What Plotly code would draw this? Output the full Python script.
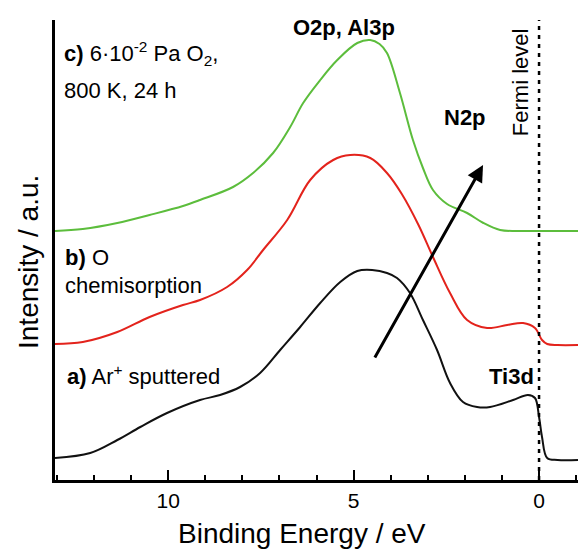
import plotly.graph_objects as go

# ---- data (binding energy in eV, intensity in arbitrary units) ----
energy_a = [13.05, 12.1, 11.37, 10.75, 10.03, 9.14, 8.6, 8.06, 7.52, 6.98, 6.44, 5.9, 5.36,
            4.9, 4.5, 4.1, 3.83, 3.48, 3.13, 2.75, 2.4, 2.05, 1.67, 1.32, 0.70, 0.3, 0.11, 0.0,
            -0.08, -0.22, -0.5, -1.05]
intensity_a = [22, 27, 40, 53, 67, 80, 85, 93, 107, 130, 153, 177, 198,
               209, 210, 207, 202, 187, 160, 130, 97, 78, 73, 73, 80, 85, 82, 63,
               43, 22, 20, 20]

energy_b = [13.05, 12.3, 11.37, 10.5, 9.6, 9.14, 8.41, 7.87, 7.44, 6.79, 6.17, 5.55, 5.09, 4.55,
            4.1, 3.7, 3.25, 2.86, 2.4, 1.94, 1.4, 0.86, 0.43, 0.11, -0.08, -0.22, -0.5, -1.05]
intensity_b = [136, 138, 148, 163, 175, 180, 193, 210, 230, 260, 300, 320, 325, 322,
               307, 286, 255, 223, 187, 160, 152, 155, 157, 152, 140, 136, 135, 135]

energy_c = [13.05, 12.3, 11.37, 10.5, 9.6, 9.14, 8.25, 7.71, 7.17, 6.71, 6.36, 5.9, 5.44, 4.9,
            4.55, 4.3, 4.1, 3.75, 3.4, 3.13, 2.86, 2.48, 1.94, 1.5, 1.05, 0.6, 0.0, -1.05]
intensity_c = [249, 251, 257, 265, 274, 280, 293, 307, 327, 353, 377, 400, 420, 437,
               440, 436, 427, 387, 340, 312, 290, 276, 267, 257, 250, 249, 249, 249]

fermi_level = 0.0
arrow_start = (4.45, 121)
arrow_end = (1.51, 315)

x_tickvals = [10, 5, 0]
x_ticktext = ["10", "5", "0"]

FONT = "Liberation Sans, Arial, sans-serif"

fig = go.Figure()
for e, i, col in [(energy_a, intensity_a, "#111111"),
                  (energy_b, intensity_b, "#e3231c"),
                  (energy_c, intensity_c, "#5cbd3c")]:
    fig.add_trace(go.Scatter(x=e, y=i, mode="lines",
                             line=dict(color=col, width=2, shape="spline", smoothing=1.0),
                             showlegend=False, hoverinfo="skip"))

fig.add_vline(x=fermi_level, line=dict(color="black", width=2.5, dash="4px,5px"))

def ann(text, x, y, size=22, **kw):
    fig.add_annotation(text=text, x=x, y=y, xref="x", yref="y", showarrow=False,
                       font=dict(family=FONT, size=size, color="black"), **kw)

# labels (positions in data coords)
ann("<b>c)</b> 6·10<sup>-2</sup> Pa O<sub>2</sub>,", 12.85, 427, xanchor="left", yanchor="middle")
ann("800 K, 24 h", 12.87, 390, xanchor="left", yanchor="middle")
ann("<b>b)</b> O", 12.83, 223, xanchor="left", yanchor="middle")
ann("chemisorption", 12.83, 195, xanchor="left", yanchor="middle")
ann("<b>a)</b> Ar<sup>+</sup> sputtered", 12.78, 105, xanchor="left", yanchor="middle")
ann("<b>O2p, Al3p</b>", 5.255, 453, xanchor="center", yanchor="middle")
ann("<b>N2p</b>", 1.995, 363, xanchor="center", yanchor="middle")
ann("<b>Ti3d</b>", 0.73, 104, xanchor="center", yanchor="middle")
ann("Fermi level", 0.51, 398, xanchor="center", yanchor="middle", textangle=-90)

fig.add_annotation(x=arrow_end[0], y=arrow_end[1], ax=arrow_start[0], ay=arrow_start[1],
                   xref="x", yref="y", axref="x", ayref="y", showarrow=True,
                   arrowhead=2, arrowsize=1.1, arrowwidth=3, arrowcolor="black", text="")

# axis titles
fig.add_annotation(text="Intensity / a.u.", xref="paper", yref="paper",
                   x=(28 - 55) / 523, y=(480 - 262) / 460, textangle=-90, showarrow=False,
                   xanchor="center", yanchor="middle",
                   font=dict(family=FONT, size=28, color="black"))
fig.add_annotation(text="Binding Energy / eV", xref="paper", yref="paper",
                   x=(302 - 55) / 523, y=(480 - 533) / 460, showarrow=False,
                   xanchor="center", yanchor="middle",
                   font=dict(family=FONT, size=28, color="black"))

fig.update_xaxes(range=[13.05, -1.05], showline=True, linecolor="black", linewidth=3,
                 tickmode="array", tickvals=x_tickvals, ticktext=x_ticktext,
                 ticks="inside", ticklen=10, tickwidth=2, tickcolor="black",
                 minor=dict(dtick=1, ticks="inside", ticklen=5, tickwidth=2, tickcolor="black"),
                 tickfont=dict(family=FONT, size=21, color="black"),
                 showgrid=False, zeroline=False)
fig.update_yaxes(range=[0, 460], showline=True, linecolor="black", linewidth=3,
                 showticklabels=False, ticks="", showgrid=False, zeroline=False)

fig.update_layout(width=578, height=549, margin=dict(l=55, r=0, t=20, b=69),
                  plot_bgcolor="white", paper_bgcolor="white")

fig.write_html("out.html", config={"displayModeBar": False},
               post_script="document.body.style.margin='0';document.body.style.overflow='hidden';")
